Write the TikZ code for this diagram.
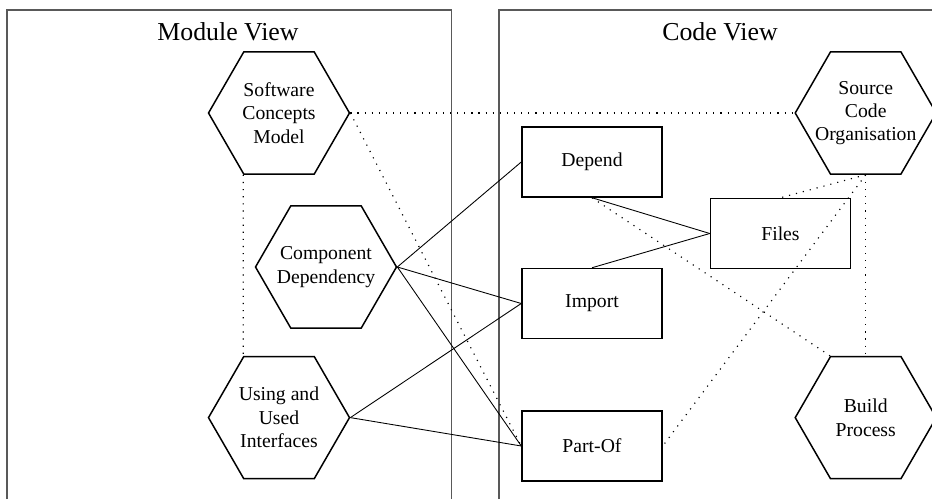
\documentclass[tikz,border=0pt]{standalone}
\usepackage{fontspec}
\setmainfont{Liberation Serif}
\usepackage{tikz}
\usetikzlibrary{positioning, shapes.geometric, calc}

\begin{document}
\begin{tikzpicture}[
        node distance=1.4cm,
        hexa/.style={regular polygon, regular polygon sides=6, draw, line width=0.85pt, minimum size=2.82cm, inner sep=-8pt, align=center, font=\fontsize{11.2}{13.3}\selectfont},
        box/.style={rectangle, draw, line width=0.85pt, minimum width=2.8cm, minimum height=1.4cm, font=\fontsize{11.2}{13.3}\selectfont},
        link/.style={line width=0.5pt},
        dotlink/.style={line width=0.65pt, dash pattern=on 0.65pt off 3.4pt},
        frame/.style={line width=0.6pt, black!65},
        title/.style={font=\fontsize{14.7}{17}\selectfont}
    ]
    \useasboundingbox (0,0) rectangle (18.64,9.98);

    % Module View
    \draw[frame] (0.14,0) |- (9.03,9.78) -- (9.03,0);
    \node (MVtitle) [title] at (4.56,9.34) {Module View};
    \node (SCM) [hexa] at (5.58,7.72) {Software\\Concepts\\Model};
    \node (CD) [hexa] at (6.52,4.64) {Component\\Dependency};
    \node (UUI) [hexa, below=3.62cm of SCM] {Using and\\Used\\Interfaces};

    % Code View
    \draw[frame] (9.98,0) |- (18.7,9.78);
    \node (CVtitle) [title] at (14.4,9.34) {Code View};
    \node (Dep) [box] at (11.84,6.74) {Depend};
    \node (Imp) [box, below=of Dep] {Import};
    \node (PO) [box, below=1.42cm of Imp] {Part-Of};
    \node (Files) [box, below right=0cm and 0.94cm of Dep] {Files};
    \node (SCO) [hexa, right=8.88cm of SCM] {Source\\Code\\Organisation};
    \node (BP) [hexa, below=3.62cm of SCO] {Build\\Process};

    % solid links
    \draw[link] (CD.east) -- (Dep.west);
    \draw[link] (CD.east) -- (Imp.west);
    \draw[link] (CD.east) -- (PO.west);
    \draw[link] (UUI.east) -- (Imp.west);
    \draw[link] (UUI.east) -- (PO.west);
    \draw[link] (Dep.south) -- (Files.west);
    \draw[link] (Imp.north) -- (Files.west);

    % dotted links
    \draw[dotlink] (SCM.east) -- (SCO.west);
    \draw[dotlink] (SCM.east) -- (PO.west);
    \draw[dotlink] (SCM.240) -- (UUI.120);
    \draw[dotlink] (SCO.south) -- (Files.north);
    \draw[dotlink] (SCO.south) -- (PO.east);
    \draw[dotlink] (SCO.south) -- (BP.north);
    \draw[dotlink] (Dep.south) -- (BP.120);
\end{tikzpicture}
\end{document}
